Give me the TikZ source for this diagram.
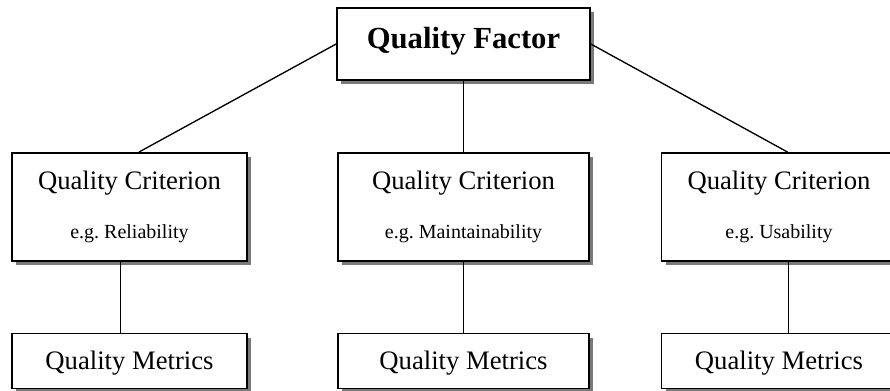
\documentclass[tikz,border=0pt]{standalone}
\usepackage{fontspec}
\setmainfont{Liberation Serif}
\usetikzlibrary{
  calc,
  positioning,
  shadows
}
\definecolor{qualityShadow}{HTML}{7A7A7A}
\definecolor{qualityLine}{HTML}{000000}
\tikzset{
  qualityBox/.style={
    draw=qualityLine,
    line width=1.3pt,
    fill=white,
    align=center,
    inner sep=0pt,
    drop shadow={shadow xshift=3pt, shadow yshift=-3pt,
      fill=qualityShadow, opacity=1}
  },
  factorBox/.style={
    qualityBox,
    minimum width=189.75pt,
    minimum height=54pt,
    font=\fontsize{23}{27}\selectfont\bfseries,
    text height=16pt,
    text depth=9.5pt
  },
  criterionBox/.style={
    qualityBox,
    minimum height=81pt,
    font=\fontsize{20}{24}\selectfont
  },
  metricsBox/.style={
    qualityBox,
    minimum height=41.25pt,
    font=\fontsize{20}{24}\selectfont,
    text height=16.5pt,
    text depth=4.5pt
  },
  linkLine/.style={draw=qualityLine, line width=1pt}
}
\newcommand{\exampleText}[1]{{\fontsize{15}{18}\selectfont #1}}

\begin{document}
\begin{tikzpicture}[x=0.75pt,y=-0.75pt]
  \useasboundingbox (0,0) rectangle (890,390);
  \clip (0,0) rectangle (890,390);

  % factor
  \node[factorBox] (factor) at (463.5,44) {Quality Factor};

  % criteria
  \node[criterionBox, minimum width=176.25pt] (critLeft) at (129.5,207)
    {Quality Criterion\\[12.5pt]\exampleText{e.g.\ Reliability}};
  \node[criterionBox, minimum width=188.25pt] (critMid) at (463.5,207)
    {Quality Criterion\\[12.5pt]\exampleText{e.g.\ Maintainability}};
  \node[criterionBox, minimum width=176.25pt] (critRight) at (779,207)
    {Quality Criterion\\[12.5pt]\exampleText{e.g.\ Usability}};

  % metrics
  \node[metricsBox, minimum width=176.25pt] (metLeft) at (129.5,361) {Quality Metrics};
  \node[metricsBox, minimum width=188.25pt] (metMid) at (463.5,361) {Quality Metrics};
  \node[metricsBox, minimum width=176.25pt] (metRight) at (779,361) {Quality Metrics};

  % links
  \draw[linkLine] (factor.west) -- ([xshift=7pt]critLeft.north);
  \draw[linkLine] (factor.south) -- (critMid.north);
  \draw[linkLine] (factor.east) -- ([xshift=6.5pt]critRight.north);
  \draw[linkLine] ([xshift=-7pt]critLeft.south) -- ([xshift=-7pt]metLeft.north);
  \draw[linkLine] (critMid.south) -- (metMid.north);
  \draw[linkLine] ([xshift=7pt]critRight.south) -- ([xshift=7pt]metRight.north);
\end{tikzpicture}
\end{document}
